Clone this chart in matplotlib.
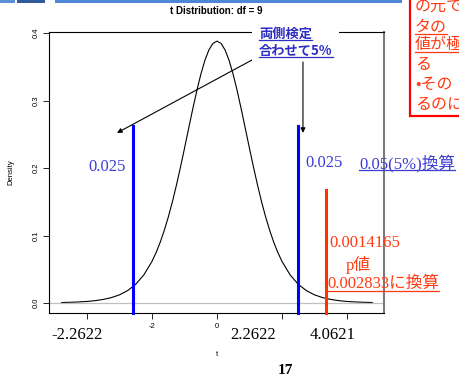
import numpy as np
import matplotlib.pyplot as plt
from matplotlib.patches import Rectangle
from matplotlib.lines import Line2D

W, H = 459, 381

# t density, df = 9 (right half, left half is its mirror)
t_half = [0.0, 0.125, 0.25, 0.375, 0.5, 0.625, 0.75, 0.875, 1.0, 1.125,
          1.25, 1.375, 1.5, 1.625, 1.75, 1.875, 2.0, 2.25, 2.5, 2.75,
          3.0, 3.25, 3.5, 3.75, 4.0, 4.25, 4.5, 4.78]
dens_half = [0.388, 0.3846, 0.3748, 0.3591, 0.3383, 0.3137, 0.2865, 0.2580,
             0.2291, 0.2010, 0.1743, 0.1495, 0.1271, 0.1072, 0.0897, 0.0746,
             0.0617, 0.0417, 0.0278, 0.0184, 0.0121, 0.0080, 0.0053, 0.0035,
             0.0023, 0.0016, 0.0011, 0.0007]

xticks = [-4, -2, 0, 2, 4]
xtick_labels = ['', '-2', '0', '', '']
yticks = [0.0, 0.1, 0.2, 0.3, 0.4]
ytick_labels = ['0.0', '0.1', '0.2', '0.3', '0.4']

crit_lines = [-2.585, 2.49]      # blue overlay lines
pval_line = 3.35                 # red overlay line
bottom_labels = ['-2.2622', '2.2622', '4.0621']
bottom_label_x = [-4.3, 1.12, 3.55]

t = np.concatenate([-np.array(t_half[::-1]), np.array(t_half[1:])])
dens = np.concatenate([np.array(dens_half[::-1]), np.array(dens_half[1:])])

BLUE_TXT = '#3c3cd6'
RED_TXT = '#ff3a12'
SERIF = ['Liberation Serif', 'Noto Sans CJK JP']
GOTH = ['Noto Sans CJK JP', 'DejaVu Sans']

plt.rcParams['font.family'] = ['Liberation Sans', 'DejaVu Sans']

fig = plt.figure(figsize=(W / 100, H / 100), dpi=100)


def fx(x):
    return x / W


def fy(y):
    return 1 - y / H


ax = fig.add_axes([fx(49), fy(313), (384 - 49) / W, (313 - 32) / H])
ax.plot(t, dens, color='black', lw=0.8)
ax.axhline(0, color='#c0c0c0', lw=0.9)
ax.set_xlim(-5.17, 5.14)
ax.set_ylim(-0.0148, 0.4015)
ax.set_xticks(xticks)
ax.set_xticklabels(xtick_labels, fontsize=5.5)
ax.set_yticks(yticks)
ax.set_yticklabels(ytick_labels, fontsize=5.5, rotation=90, va='center')
ax.tick_params(length=4, width=0.6, pad=3)
for s in ['left', 'top', 'bottom']:
    ax.spines[s].set_linewidth(0.8)
ax.spines['right'].set_color('#7a7a7a')
ax.spines['right'].set_linewidth(1.5)
ax.set_xlabel('t', fontsize=5.5, labelpad=15)
ax.set_ylabel('Density', fontsize=5.5, labelpad=13)
ax.set_title('t Distribution: df = 9', fontsize=7, fontweight='bold', pad=13)

# overlay lines
for c in crit_lines:
    ax.plot([c, c], [-0.0148, 0.262], color='#0000ff', lw=2.2, zorder=4,
            clip_on=False)
ax.plot([pval_line, pval_line], [-0.0148, 0.167], color='#ff3300', lw=2.2,
        zorder=4, clip_on=False)

# white label box over top border
fig.patches.append(Rectangle((fx(252), fy(61)), (339 - 252) / W, 35 / H,
                             transform=fig.transFigure, fc='white', ec='none',
                             zorder=5))
under = []
under.append(fig.text(fx(259), fy(34), '両側検定', color='#2e2ec4',
                      fontsize=9.5, fontweight='bold', family=GOTH,
                      va='center', zorder=6))
under.append(fig.text(fx(259), fy(51), '合わせて5%', color='#2e2ec4',
                      fontsize=9.5, fontweight='bold', family=GOTH,
                      va='center', zorder=6))

ax.annotate('', xy=(-3.077, 0.252), xytext=(1.077, 0.36),
            arrowprops=dict(arrowstyle='-|>', color='black', lw=0.8,
                            mutation_scale=7, shrinkA=0, shrinkB=0),
            annotation_clip=False, zorder=6)
ax.annotate('', xy=(2.646, 0.252), xytext=(2.646, 0.357),
            arrowprops=dict(arrowstyle='-|>', color='black', lw=0.8,
                            mutation_scale=7, shrinkA=0, shrinkB=0),
            annotation_clip=False, zorder=6)

# blue texts
fig.text(fx(107), fy(167), '0.025', color=BLUE_TXT, fontsize=12,
         family=SERIF, ha='center', va='center')
fig.text(fx(305), fy(163), '0.025', color=BLUE_TXT, fontsize=12,
         family=SERIF, ha='left', va='center')
under.append(fig.text(fx(359), fy(163), '0.05(5%)換算', color=BLUE_TXT,
                      fontsize=12, family=SERIF, ha='left', va='center'))

# red texts
fig.text(fx(329), fy(243), '0.0014165', color=RED_TXT, fontsize=12,
         family=SERIF, ha='left', va='center')
fig.text(fx(358), fy(265), 'p値', color=RED_TXT, fontsize=12,
         family=SERIF, ha='center', va='center')
under.append(fig.text(fx(327), fy(284), '0.002833に換算', color=RED_TXT,
                      fontsize=12, family=SERIF, ha='left', va='center'))

# bottom labels
for lab, x in zip(bottom_labels, bottom_label_x):
    ax.text(x, -0.0148 - 14 / 675, lab, fontsize=12, family=SERIF,
            ha='center', va='top', color='black',
            bbox=dict(fc='white', ec='none', pad=0.3), zorder=6,
            clip_on=False)

fig.text(fx(285), fy(371), '17', fontsize=11, fontweight='bold',
         family=SERIF, ha='center', va='center')

# top slide bar
for x0, x1, c in [(0, 15, '#5b8fd6'), (17, 45, '#2f5a9e'), (55, 402, '#4f86d8')]:
    fig.patches.append(Rectangle((fx(x0), fy(3)), (x1 - x0) / W, 3 / H,
                                 transform=fig.transFigure, fc=c, ec='none',
                                 zorder=7))

# red box on the right (continues past the slide edge)
fig.patches.append(Rectangle((fx(410), fy(116)), (470 - 410) / W, 130 / H,
                             transform=fig.transFigure, fc='white',
                             ec='#ff0000', lw=1.6, zorder=8))
box_lines = ['の元で', 'タの', '値が極', 'る', '•その', 'るのに']
box_y = [6, 27, 45, 64, 84, 104]
for s, y in zip(box_lines, box_y):
    tx = fig.text(fx(415), fy(y), s, color=RED_TXT, fontsize=11.5,
                  family=GOTH, ha='left', va='center', zorder=9)
    if s in ('タの', '値が極'):
        under.append(tx)

fig.canvas.draw()
for tx in under:
    bb = tx.get_window_extent()
    y = bb.y0 + 1.5
    fig.lines.append(Line2D([bb.x0 / W, min(bb.x1, W) / W], [y / H, y / H],
                            transform=fig.transFigure, color=tx.get_color(),
                            lw=0.9, zorder=10))

fig.savefig('out.png', dpi=100)
